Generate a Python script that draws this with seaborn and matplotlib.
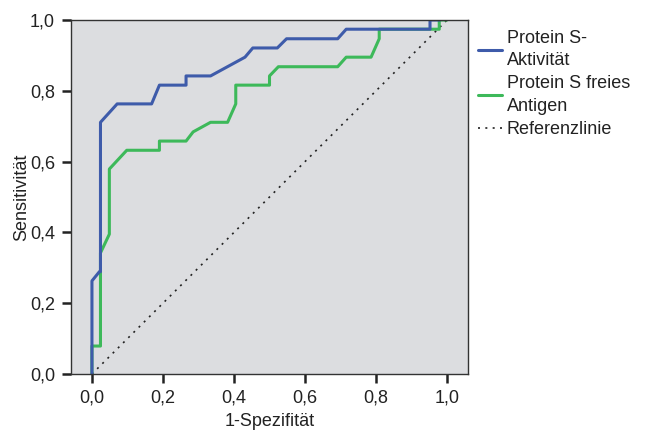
import matplotlib
matplotlib.use("Agg")
import matplotlib.pyplot as plt
import seaborn as sns
import pandas as pd
import numpy as np

# ROC curve points (1-Spezifität, Sensitivität)
aktivitaet_x = [0.0, 0.0, 0.0, 0.021, 0.024, 0.024, 0.071, 0.168, 0.19, 0.265, 0.265, 0.334,
                0.431, 0.453, 0.522, 0.548, 0.692, 0.716, 0.952, 0.952, 0.98]
aktivitaet_y = [0.0, 0.082, 0.263, 0.289, 0.289, 0.711, 0.763, 0.763, 0.816, 0.816, 0.842, 0.842,
                0.895, 0.921, 0.921, 0.947, 0.947, 0.974, 0.974, 1.0, 1.0]

antigen_x = [0.0, 0.0, 0.024, 0.024, 0.049, 0.049, 0.098, 0.19, 0.19, 0.265, 0.285, 0.334,
             0.382, 0.405, 0.405, 0.5, 0.5, 0.525, 0.692, 0.716, 0.786, 0.809, 0.809,
             0.978, 0.978, 1.0]
antigen_y = [0.0, 0.079, 0.079, 0.342, 0.395, 0.579, 0.632, 0.632, 0.658, 0.658, 0.684, 0.711,
             0.711, 0.763, 0.816, 0.816, 0.842, 0.868, 0.868, 0.895, 0.895, 0.947, 0.974,
             0.974, 1.0, 1.0]

ref_x = [0.0, 1.0]
ref_y = [0.0, 1.0]

series_labels = ["Protein S-\nAktivität", "Protein S freies\nAntigen", "Referenzlinie"]
xticks = [0.0, 0.2, 0.4, 0.6, 0.8, 1.0]
yticks = [0.0, 0.2, 0.4, 0.6, 0.8, 1.0]
tick_labels = ["0,0", "0,2", "0,4", "0,6", "0,8", "1,0"]

sns.set_theme(style="white")
plt.rcParams["font.family"] = ["Liberation Sans", "DejaVu Sans"]

fig = plt.figure(figsize=(6.45, 4.33), dpi=100)
ax = fig.add_axes([71 / 645, 1 - 374 / 433, (468 - 71) / 645, (374 - 20) / 433])
ax.set_facecolor("#DCDDE0")

df_a = pd.DataFrame({"x": aktivitaet_x, "y": aktivitaet_y})
df_b = pd.DataFrame({"x": antigen_x, "y": antigen_y})
df_r = pd.DataFrame({"x": ref_x, "y": ref_y})

common = dict(ax=ax, sort=False, estimator=None, errorbar=None)
sns.lineplot(data=df_r, x="x", y="y", color="#222222", lw=1.2,
             linestyle=(0, (1.2, 3.2)), label=series_labels[2], **common)
sns.lineplot(data=df_b, x="x", y="y", color="#3DB95A", lw=2.2,
             label=series_labels[1], **common)
sns.lineplot(data=df_a, x="x", y="y", color="#3E5BAA", lw=2.2,
             label=series_labels[0], **common)

ax.set_xlim(-0.059, 1.059)
ax.set_ylim(0.0, 1.0)
ax.set_xticks(xticks)
ax.set_xticklabels(tick_labels)
ax.set_yticks(yticks)
ax.set_yticklabels(tick_labels)
ax.tick_params(axis="both", direction="out", length=6.5, width=1.8, color="#222222",
               labelsize=13, labelcolor="#222222", pad=5, bottom=True, left=True)
for s in ax.spines.values():
    s.set_color("#333333")
    s.set_linewidth(1.0)

ax.set_xlabel("1-Spezifität", fontsize=13, color="#222222", labelpad=4.5)
ax.set_ylabel("Sensitivität", fontsize=13, color="#222222", labelpad=0)

handles, labels = ax.get_legend_handles_labels()
order = [2, 1, 0]
leg = ax.legend([handles[i] for i in order], [labels[i] for i in order],
                loc="upper left", bbox_to_anchor=(1.0, 1.0), frameon=False,
                fontsize=13, handlelength=1.35, handletextpad=0.25, labelspacing=0.35,
                borderaxespad=0.15)
for t in leg.get_texts():
    t.set_color("#222222")
    t.set_linespacing(1.4)

fig.savefig("out.png", dpi=100)
